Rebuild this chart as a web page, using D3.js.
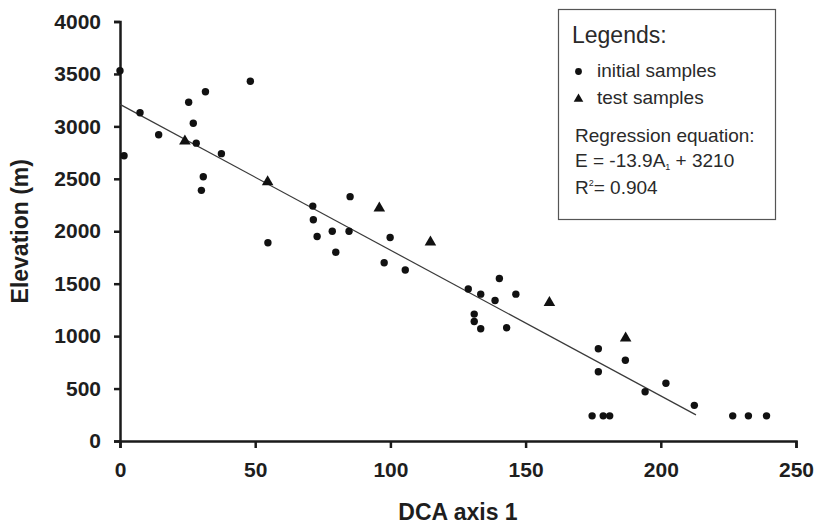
<!DOCTYPE html>
<html>
<head>
<meta charset="utf-8">
<script src="https://cdn.jsdelivr.net/npm/d3@7"></script>
<style>
  body { margin: 0; background: #fff; }
  svg { display: block; font-family: "Liberation Sans", Arial, sans-serif; }
</style>
</head>
<body>
<svg id="chart"></svg>
<script>
const width = 816;
const height = 524;

// initial samples (DCA axis 1 score, elevation in m)
const initialDCA = [0, 1.5, 7.4, 14.3, 25.4, 31.6, 27.1, 28.2, 37.5, 30.8, 30.1, 48.2,
  54.7, 85.1, 71.3, 71.5, 72.9, 78.5, 79.8, 84.7, 99.9, 97.7, 105.5,
  128.8, 140.3, 133.4, 138.7, 146.4, 131, 131, 133.4, 143,
  176.9, 186.9, 176.9, 174.6, 178.7, 181.1, 201.9, 194.2, 212.4, 226.6, 232.4, 239.1];
const initialElev = [3530, 2720, 3130, 2920, 3230, 3330, 3030, 2840, 2740, 2520, 2390, 3430,
  1890, 2330, 2240, 2110, 1950, 2000, 1800, 2000, 1940, 1700, 1630,
  1450, 1550, 1400, 1340, 1400, 1210, 1140, 1070, 1080,
  880, 770, 660, 240, 240, 240, 550, 470, 340, 240, 240, 240];

// test samples
const testDCA = [24, 54.6, 95.9, 114.8, 158.8, 187];
const testElev = [2860, 2470, 2220, 1895, 1320, 980];

// regression E = -13.9 A1 + 3210, drawn over the fitted range
const slope = -13.9;
const intercept = 3210;
const fitRange = [0, 213];

const xTicks = [0, 50, 100, 150, 200, 250];
const yTicks = [0, 500, 1000, 1500, 2000, 2500, 3000, 3500, 4000];

const svg = d3.select("#chart")
  .attr("width", width)
  .attr("height", height);

const x = d3.scaleLinear().domain([0, 250]).range([120, 796]);
const y = d3.scaleLinear().domain([0, 4000]).range([441, 21.5]);

// axes
const xAxis = svg.append("g")
  .attr("transform", `translate(0,${y(0)})`)
  .call(d3.axisBottom(x).tickValues(xTicks).tickFormat(d3.format("d")).tickSize(7).tickPadding(14));
const yAxis = svg.append("g")
  .attr("transform", `translate(${x(0)},0)`)
  .call(d3.axisLeft(y).tickValues(yTicks).tickFormat(d3.format("d")).tickSize(6).tickPadding(13));

[xAxis, yAxis].forEach(function (g) {
  g.selectAll("path, line").attr("stroke", "#1a1a1a").attr("stroke-width", 2.5);
  g.selectAll("text")
    .attr("fill", "#1e1e1e")
    .style("font-size", "21px")
    .style("font-weight", "bold")
    .style("font-family", "'Liberation Sans', Arial, sans-serif");
});
xAxis.selectAll("text").attr("dy", "0.71em");

svg.append("text")
  .attr("x", (x(0) + x(250)) / 2)
  .attr("y", 520)
  .attr("text-anchor", "middle")
  .attr("fill", "#1e1e1e")
  .style("font-size", "23px")
  .style("font-weight", "bold")
  .text("DCA axis 1");

svg.append("text")
  .attr("transform", `translate(28,${(y(0) + y(4000)) / 2}) rotate(-90)`)
  .attr("text-anchor", "middle")
  .attr("fill", "#1e1e1e")
  .style("font-size", "23px")
  .style("font-weight", "bold")
  .text("Elevation (m)");

// regression line
svg.append("line")
  .attr("x1", x(fitRange[0]))
  .attr("y1", y(intercept + slope * fitRange[0]))
  .attr("x2", x(fitRange[1]))
  .attr("y2", y(intercept + slope * fitRange[1]))
  .attr("stroke", "#3a3a3a")
  .attr("stroke-width", 1.2);

// points
svg.append("g")
  .selectAll("circle")
  .data(d3.range(initialDCA.length))
  .join("circle")
  .attr("cx", i => x(initialDCA[i]))
  .attr("cy", i => y(initialElev[i]))
  .attr("r", 3.7)
  .attr("fill", "#111");

svg.append("g")
  .selectAll("path")
  .data(d3.range(testDCA.length))
  .join("path")
  .attr("transform", i => `translate(${x(testDCA[i])},${y(testElev[i])})`)
  .attr("d", d3.symbol(d3.symbolTriangle, 58))
  .attr("fill", "#111");

// legend box
const legend = svg.append("g");
legend.append("rect")
  .attr("x", 558.5).attr("y", 9.5)
  .attr("width", 217).attr("height", 210)
  .attr("fill", "#fff")
  .attr("stroke", "#555")
  .attr("stroke-width", 1.2);

legend.append("text")
  .attr("x", 572).attr("y", 43)
  .attr("fill", "#2a2a2a")
  .style("font-size", "23px")
  .text("Legends:");

legend.append("circle")
  .attr("cx", 578.5).attr("cy", 71.5).attr("r", 3.4).attr("fill", "#111");
legend.append("path")
  .attr("transform", "translate(578.5,99)")
  .attr("d", d3.symbol(d3.symbolTriangle, 40))
  .attr("fill", "#111");

const legendText = [
  { t: "initial samples", x: 597, y: 77 },
  { t: "test samples", x: 597, y: 103.5 }
];
legend.selectAll("text.item")
  .data(legendText)
  .join("text")
  .attr("class", "item")
  .attr("x", d => d.x).attr("y", d => d.y)
  .attr("fill", "#2a2a2a")
  .style("font-size", "19px")
  .text(d => d.t);

legend.append("text")
  .attr("x", 575).attr("y", 142)
  .attr("fill", "#2a2a2a")
  .style("font-size", "19px")
  .text("Regression equation:");

const eq = legend.append("text")
  .attr("x", 575).attr("y", 167)
  .attr("fill", "#2a2a2a")
  .style("font-size", "19px");
eq.append("tspan").text("E = -13.9A");
eq.append("tspan").attr("dy", 3).style("font-size", "9px").text("1");
eq.append("tspan").attr("dy", -3).text(" + 3210");

const r2 = legend.append("text")
  .attr("x", 575).attr("y", 194)
  .attr("fill", "#2a2a2a")
  .style("font-size", "19px");
r2.append("tspan").text("R");
r2.append("tspan").attr("dy", -8).style("font-size", "9px").text("2");
r2.append("tspan").attr("dy", 8).text("= 0.904");
</script>
</body>
</html>
